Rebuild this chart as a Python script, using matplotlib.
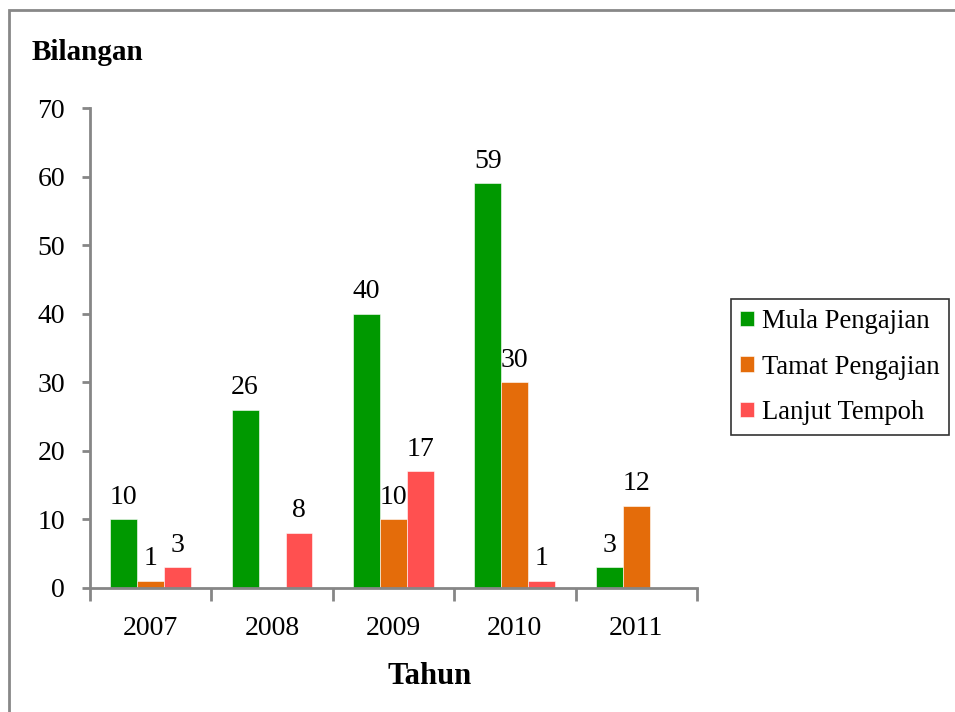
import numpy as np
import matplotlib
matplotlib.use('Agg')
from matplotlib import pyplot as plt
from matplotlib.patches import Rectangle

plt.rcParams['font.family'] = ['Liberation Serif', 'DejaVu Serif']

# data
years = ['2007', '2008', '2009', '2010', '2011']
mula = [10, 26, 40, 59, 3]
tamat = [1, 0, 10, 30, 12]
lanjut = [3, 8, 17, 1, 0]
series_names = ['Mula Pengajian', 'Tamat Pengajian', 'Lanjut Tempoh']
colors = ['#009900', '#E46C0A', '#FF5050']

fs = 20

fig = plt.figure(figsize=(9.55, 7.12), dpi=100)
ax = fig.add_axes([0.0942, 0.1742, 0.6356, 0.6741])

x = np.arange(len(years))
w = 0.222
for i, (vals, name, c) in enumerate(zip([mula, tamat, lanjut], series_names, colors)):
    bars = ax.bar(x + (i - 1) * w, vals, w, color=c, label=name,
                  edgecolor='white', linewidth=0.4)
    labs = [str(v) if v > 0 else '' for v in vals]
    ax.bar_label(bars, labels=labs, padding=7, fontsize=fs)

ax.set_xlim(-0.5, len(years) - 0.5)
ax.set_ylim(0, 70)
ax.set_yticks(range(0, 71, 10))
ax.set_xticks(x)
ax.set_xticklabels(years)
ax.set_xticks(np.arange(-0.5, len(years), 1), minor=True)
ax.tick_params(axis='x', which='major', length=0, pad=20, labelsize=fs)
ax.tick_params(axis='x', which='minor', length=9, width=2, color='#868686')
ax.tick_params(axis='y', length=6, width=2, color='#868686', pad=12, labelsize=fs)

for s in ['top', 'right']:
    ax.spines[s].set_visible(False)
for s in ['left', 'bottom']:
    ax.spines[s].set_color('#868686')
    ax.spines[s].set_linewidth(2)

fig.text(430 / 955, 1 - 676 / 712, 'Tahun', fontsize=22, fontweight='bold',
         va='center', ha='center')
fig.text(32 / 955, 1 - 53 / 712, 'Bilangan', fontsize=21, fontweight='bold',
         va='center', ha='left')

leg = ax.legend(loc='center left', bbox_to_anchor=(731 / 955, 1 - 367 / 712),
                bbox_transform=fig.transFigure, fontsize=19.2, frameon=True,
                fancybox=False, handlelength=0.5, handleheight=0.5,
                handletextpad=0.3, labelspacing=0.78, borderpad=0.35,
                borderaxespad=0)
leg.get_frame().set_edgecolor('black')
leg.get_frame().set_linewidth(1.2)

# outer chart border
fig.patches.append(Rectangle((9 / 955, -0.1), 1.1, 1 - 10 / 712 + 0.1,
                             transform=fig.transFigure, fill=False,
                             edgecolor='#888888', linewidth=2))

plt.savefig('out.png', dpi=100)
